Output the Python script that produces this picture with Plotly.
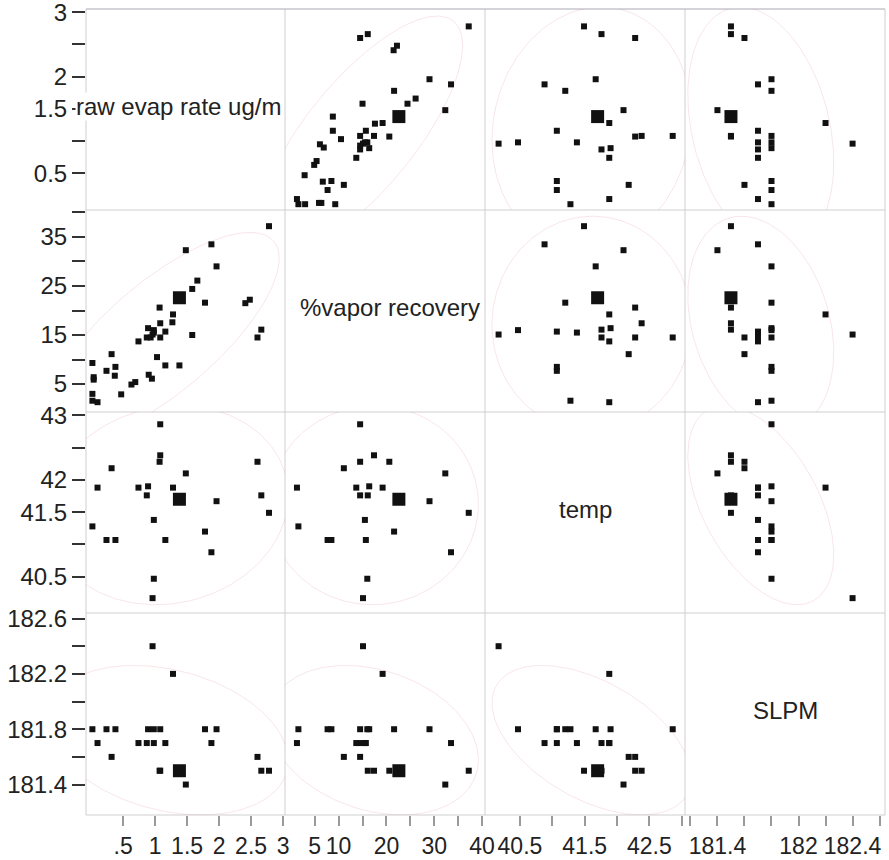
import numpy as np
import plotly.graph_objects as go

# ---------------- data ----------------
NAN = float("nan")
var_names = ["raw evap rate ug/m", "%vapor recovery", "temp", "SLPM"]

raw_evap = [2.78, 1.88, 1.48, 1.96, 1.66, 1.58, 1.38, 1.78, 2.41, 2.48,
            1.07, 1.28, 1.08, 1.27, 0.89, 0.98, 1.16, 0.87, 0.93, 1.08,
            1.58, 2.66, 2.60, 0.74, 0.32, 1.03, 1.16, 1.38, 0.02, 0.24,
            0.38, 0.37, 0.04, 0.04, 0.90, 0.95, 0.63, 0.69, 0.47, 0.02,
            0.02, 0.10, 0.98, 0.96]
vapor_recovery = [37.2, 33.5, 32.3, 29.0, 26.1, 24.4, 22.6, 21.6, 21.5, 22.2,
                  20.6, 19.2, 17.4, 17.6, 16.4, 15.5, 15.7, 14.5, 14.5, 14.5,
                  15.0, 16.1, 14.5, 13.7, 11.1, 10.5, 8.8, 8.8, 9.3, 7.7,
                  8.5, 6.7, 6.4, 5.9, 6.9, 6.1, 4.9, 5.4, 2.9, 1.6,
                  3.0, 1.3, 16.0, 15.1]
temp = [41.49, 40.88, 42.10, 41.67, NAN, NAN, 41.70, 41.20, NAN, NAN,
        42.28, 41.88, 42.38, NAN, 41.90, 41.38, 41.07, 41.76, NAN, 42.86,
        NAN, 41.76, 42.28, 41.88, 42.18, NAN, NAN, NAN, NAN, 41.07,
        41.07, NAN, NAN, NAN, NAN, NAN, NAN, NAN, NAN, 41.28,
        NAN, 41.88, 40.47, 40.17]
slpm = [181.5, 181.7, 181.4, 181.8, NAN, NAN, 181.5, 181.8, NAN, NAN,
        181.5, 182.2, 181.5, NAN, 181.8, 181.7, 181.7, 181.7, NAN, 181.8,
        NAN, 181.5, 181.6, 181.7, 181.6, NAN, NAN, NAN, NAN, 181.8,
        181.8, NAN, NAN, NAN, NAN, NAN, NAN, NAN, NAN, 181.8,
        NAN, 181.7, 181.8, 182.4]
HIGHLIGHT_ROW = 6  # the selected row, drawn as a large square

# axis ticks / labels
x_tickvals = [[0.5, 1, 1.5, 2, 2.5, 3],
              [5, 10, 15, 20, 25, 30, 35, 40],
              [40.5, 41, 41.5, 42, 42.5, 43],
              [181.2, 181.4, 181.6, 181.8, 182.0, 182.2, 182.4, 182.6]]
x_ticktext = [[".5", "1", "1.5", "2", "2.5", "3"],
              ["5", "10", "", "20", "", "30", "", "40"],
              ["40.5", "", "41.5", "", "42.5", ""],
              ["", "181.4", "", "", "182", "", "182.4", ""]]
y_tickvals = [[0.5, 1, 1.5, 2, 2.5, 3],
              [5, 10, 15, 20, 25, 30, 35, 40],
              [40.5, 41, 41.5, 42, 42.5, 43],
              [181.4, 181.6, 181.8, 182.0, 182.2, 182.4, 182.6]]
y_ticktext = [["0.5", "", "1.5", "2", "", "3"],
              ["5", "", "15", "", "25", "", "35", ""],
              ["40.5", "", "41.5", "42", "", "43"],
              ["181.4", "", "181.8", "", "182.2", "", "182.6"]]
x_ranges = [[-0.08, 3.03], [-1.2, 40.6], [39.96, 43.05], [181.16, 182.64]]
y_ranges = [[-0.07, 3.05], [-0.7, 40.5], [39.94, 43.05], [181.18, 182.64]]

# ---------------- figure ----------------
FONT = "Liberation Sans, Arial, sans-serif"
data = [np.array(v, dtype=float) for v in (raw_evap, vapor_recovery, temp, slpm)]
n = 4
W, H = 889, 860
ML, MR, MT, MB = 86, 4, 9, 45
col_px = [86, 285, 485, 685, 885]
row_px = [9, 210, 412, 613, 815]
pw, ph = W - ML - MR, H - MT - MB
col_dom = [(p - ML) / pw for p in col_px]
row_dom = [(H - MB - p) / ph for p in row_px]  # top->bottom

fig = go.Figure()
chi = np.sqrt(5.991)
tt = np.linspace(0, 2 * np.pi, 200)

for r in range(n):
    for c in range(n):
        if r == c:
            continue
        xv, yv = data[c], data[r]
        m = ~np.isnan(xv) & ~np.isnan(yv)
        xs, ys = xv[m], yv[m]
        xa = "x" if c == 0 else f"x{c+1}"
        ya = "y" if r == 0 else f"y{r+1}"
        # density ellipse (95%) computed from the data
        cov = np.cov(xs, ys)
        vals, vecs = np.linalg.eigh(cov)
        circ = np.vstack([np.cos(tt), np.sin(tt)])
        pts = vecs @ (np.sqrt(np.maximum(vals, 0))[:, None] * circ) * chi
        fig.add_trace(go.Scatter(x=xs.mean() + pts[0], y=ys.mean() + pts[1],
                                 mode="lines", xaxis=xa, yaxis=ya,
                                 line=dict(color="rgba(225,140,150,0.22)", width=1),
                                 hoverinfo="skip", showlegend=False))
        idx = np.where(m)[0]
        normal = idx[idx != HIGHLIGHT_ROW]
        fig.add_trace(go.Scatter(x=xv[normal], y=yv[normal], mode="markers",
                                 xaxis=xa, yaxis=ya,
                                 marker=dict(symbol="square", size=6, color="#111111",
                                             line=dict(width=0)),
                                 showlegend=False))
        if m[HIGHLIGHT_ROW]:
            fig.add_trace(go.Scatter(x=[xv[HIGHLIGHT_ROW]], y=[yv[HIGHLIGHT_ROW]],
                                     mode="markers", xaxis=xa, yaxis=ya,
                                     marker=dict(symbol="square", size=13, color="#111111",
                                                 line=dict(width=0)),
                                     showlegend=False))

layout = dict(
    width=W, height=H,
    margin=dict(l=ML, r=MR, t=MT, b=MB, pad=0, autoexpand=False),
    paper_bgcolor="white", plot_bgcolor="white",
    font=dict(family=FONT, size=24, color="#222222"),
    showlegend=False,
)
for c in range(n):
    key = "xaxis" if c == 0 else f"xaxis{c+1}"
    layout[key] = dict(domain=[col_dom[c], col_dom[c + 1]], anchor="y4",
                       range=x_ranges[c], tickmode="array",
                       tickvals=x_tickvals[c], ticktext=x_ticktext[c],
                       ticks="outside", ticklen=10, tickwidth=1.5, tickcolor="#9a9a9a",
                       ticklabeloverflow="allow",
                       showgrid=False, zeroline=False, showline=False,
                       tickfont=dict(family=FONT, size=23, color="#222222"))
for r in range(n):
    key = "yaxis" if r == 0 else f"yaxis{r+1}"
    layout[key] = dict(domain=[row_dom[r + 1], row_dom[r]], anchor="x",
                       range=y_ranges[r], tickmode="array",
                       tickvals=y_tickvals[r], ticktext=y_ticktext[r],
                       ticks="outside", ticklen=13, tickwidth=2, tickcolor="#333333",
                       ticklabeloverflow="allow",
                       showgrid=False, zeroline=False, showline=False,
                       tickfont=dict(family=FONT, size=24, color="#222222"))

shapes = []
for cd in col_dom:
    shapes.append(dict(type="line", xref="paper", yref="paper", x0=cd, x1=cd, y0=0, y1=1,
                       line=dict(color="#cfcfcf", width=1), layer="below"))
for i, rd in enumerate(row_dom):
    shapes.append(dict(type="line", xref="paper", yref="paper", x0=0, x1=1, y0=rd, y1=rd,
                       line=dict(color="#a8a8b4" if i == 0 else "#cfcfcf", width=1),
                       layer="below"))
layout["shapes"] = shapes

annotations = []
label_dx = [-7, 5, 0, 0]  # pixel nudges of the diagonal labels
for k in range(n):
    cx = (col_dom[k] + col_dom[k + 1]) / 2 + label_dx[k] / pw
    cy = (row_dom[k] + row_dom[k + 1]) / 2 + 0.004
    annotations.append(dict(text=var_names[k], x=cx, y=cy, xref="paper", yref="paper",
                            showarrow=False, xanchor="center", yanchor="middle",
                            bgcolor="white" if k == 0 else None, borderpad=0,
                            font=dict(family=FONT, size=24, color="#222222")))
layout["annotations"] = annotations

fig.update_layout(**layout)
# the page's default 8 px body margin would push the 889x860 figure off the window
fig.write_html("out.html",
               config={"displayModeBar": False},
               post_script="document.body.style.margin='0px';"
                           "document.body.style.overflow='hidden';")
